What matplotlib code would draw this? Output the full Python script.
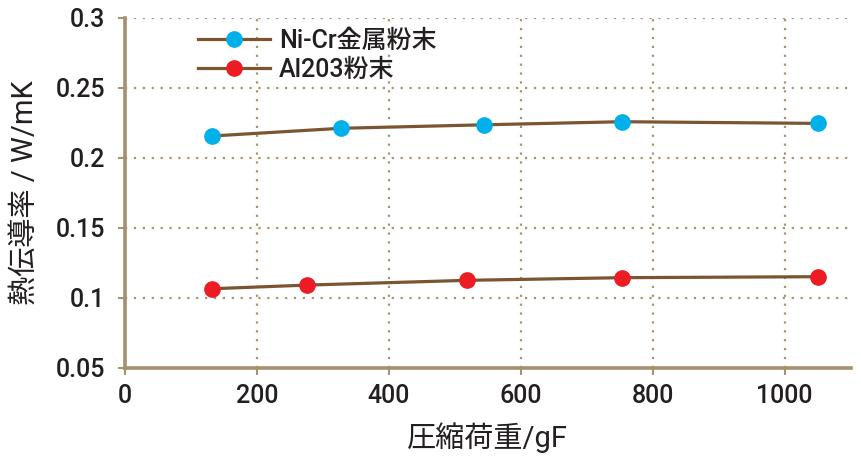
import matplotlib
matplotlib.use("Agg")
import matplotlib.pyplot as plt

plt.rcParams['font.family'] = ['Roboto', 'Noto Sans CJK JP', 'DejaVu Sans']
plt.rcParams['font.weight'] = 'medium'

series_names = ["Ni-Cr金属粉末", "Al203粉末"]
nicr_x = [132, 327, 544, 753, 1050]
nicr_y = [0.2155, 0.221, 0.2235, 0.2257, 0.2245]
al_x = [132, 276, 518, 753, 1050]
al_y = [0.1064, 0.109, 0.1124, 0.1143, 0.115]
x_ticks = [0, 200, 400, 600, 800, 1000]
y_ticks = [0.05, 0.1, 0.15, 0.2, 0.25, 0.3]
y_tick_labels = ["0.05", "0.1", "0.15", "0.2", "0.25", "0.3"]
x_label = "圧縮荷重/gF"
y_label = "熱伝導率 / W/mK"

line_c = "#7a5530"
axis_c = "#a59070"
grid_c = "#a8946c"
text_c = "#231f20"

fig = plt.figure(figsize=(8.61, 4.61), dpi=100)
ax = fig.add_axes([0.145, 0.2024, 0.843, 0.7592])

ax.plot(nicr_x, nicr_y, color=line_c, lw=2.3, marker='o', markersize=11,
        markerfacecolor="#00b0eb", markeredgecolor="#00b0eb", label=series_names[0], zorder=3)
ax.plot(al_x, al_y, color=line_c, lw=2.3, marker='o', markersize=11,
        markerfacecolor="#ed1c24", markeredgecolor="#ed1c24", label=series_names[1], zorder=3)

ax.set_xlim(0, 1100)
ax.set_ylim(0.05, 0.3)
ax.set_xticks(x_ticks)
ax.set_yticks(y_ticks)
ax.set_yticklabels(y_tick_labels)

ax.grid(True, color=grid_c, linestyle=(0, (1, 3)), linewidth=1.6)
for s in ['top', 'right']:
    ax.spines[s].set_visible(False)
for s in ['left', 'bottom']:
    ax.spines[s].set_color(axis_c)
    ax.spines[s].set_linewidth(2.6)

ax.tick_params(axis='both', colors=grid_c, length=5, width=1.5, labelsize=18, labelcolor=text_c, pad=7)
ax.tick_params(axis='y', pad=9)

ax.set_xlabel(x_label, fontsize=21, color=text_c, labelpad=10)
ax.set_ylabel(y_label, fontsize=21, color=text_c, labelpad=12)

leg = ax.legend(loc='upper left', bbox_to_anchor=(0.08, 1.01), frameon=False,
                fontsize=18, handlelength=2.9, handletextpad=0.35, labelspacing=0.2,
                borderaxespad=0.2)
for t in leg.get_texts():
    t.set_color(text_c)

fig.savefig("out.png", dpi=100)
